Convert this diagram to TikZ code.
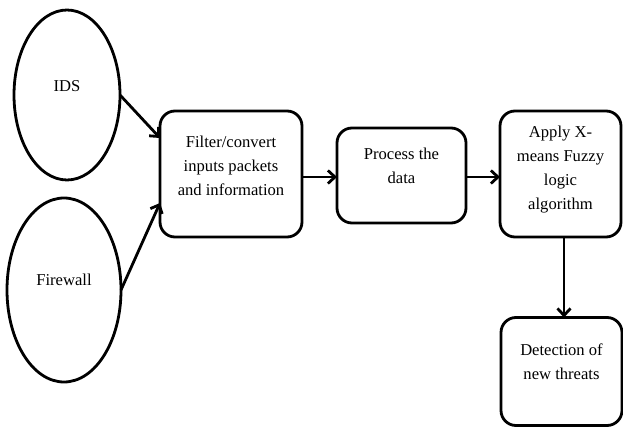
\documentclass[tikz,border=0pt]{standalone}
\usepackage{fontspec}
\setmainfont{Liberation Serif}
\usetikzlibrary{shapes.geometric,arrows.meta}
\begin{document}
\begin{tikzpicture}[x=1pt,y=-1pt,
  every node/.style={inner sep=0pt,outer sep=0pt},
  src/.style={draw,line width=2.8pt,ellipse},
  stepbox/.style={draw,line width=2.8pt,rounded corners=15pt,rectangle},
  txt/.style={font=\fontsize{16.6}{24}\selectfont,align=center},
  flow/.style={line width=2.8pt,-{Straight Barb[length=7pt,width=13pt,line width=2.8pt]}}]
\useasboundingbox (0,0) rectangle (623,427);

% sources
\node[src,minimum width=106pt,minimum height=170pt] (ids) at (67,95) {};
\node[txt] (idstxt) at ([yshift=9pt]ids.center) {IDS};
\node[src,minimum width=114pt,minimum height=184pt] (fw) at (64,290) {};
\node[txt] (fwtxt) at ([yshift=10pt]fw.center) {Firewall};

% processing steps
\node[stepbox,minimum width=142pt,minimum height=126pt] (filter) at (231,174) {};
\node[txt] (filtertxt) at ([yshift=8pt]filter.center) {Filter/convert\\inputs packets\\and information};

\node[stepbox,minimum width=129pt,minimum height=95pt] (proc) at (401.5,175.5) {};
\node[txt] (proctxt) at ([yshift=10pt]proc.center) {Process the\\data};

\node[stepbox,minimum width=121pt,minimum height=126pt] (apply) at (560.5,174) {};
\node[txt] (applytxt) at ([yshift=4.5pt]apply.center) {Apply X-\\means Fuzzy\\logic\\algorithm};

\node[stepbox,minimum width=121pt,minimum height=108pt] (detect) at (561.5,371.5) {};
\node[txt] (detecttxt) at ([yshift=10pt]detect.center) {Detection of\\new threats};

% connectors
\draw[flow] (ids.east) -- ([yshift=36pt]filter.west);
\draw[flow] (fw.east) -- ([yshift=-29pt]filter.west);
\draw[flow] ([yshift=-3pt]filter.east) -- ([yshift=-1.5pt]proc.west);
\draw[flow] ([yshift=-1.5pt]proc.east) -- ([yshift=-3pt]apply.west);
\draw[flow] ([xshift=3.5pt]apply.south) -- ([xshift=2.5pt]detect.north);
\end{tikzpicture}
\end{document}
